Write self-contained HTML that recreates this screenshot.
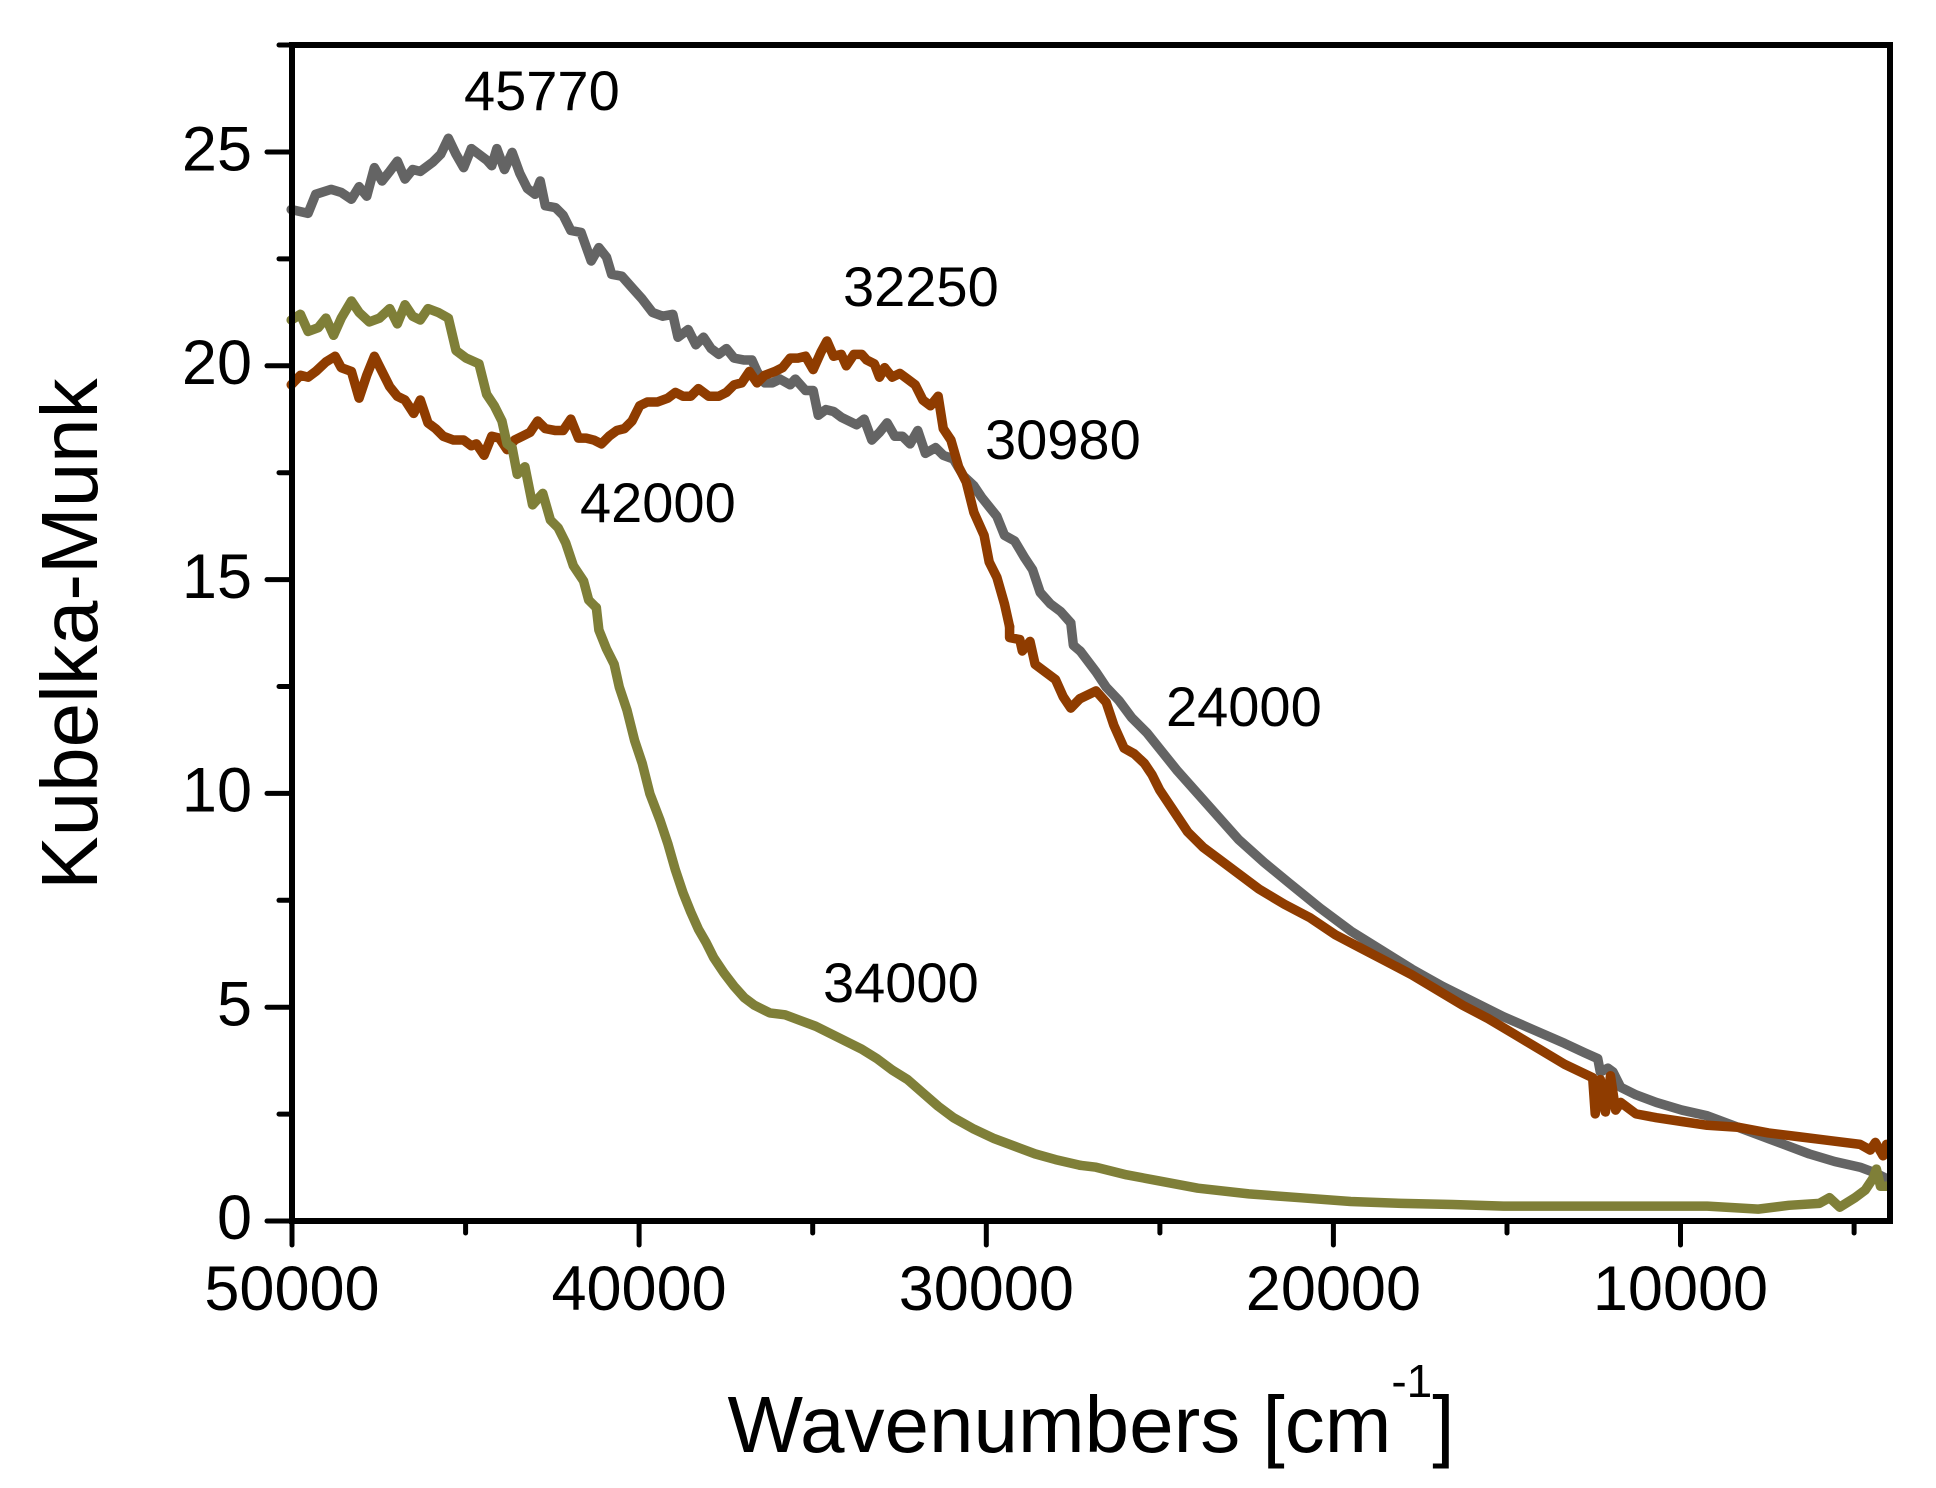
<!DOCTYPE html>
<html>
<head>
<meta charset="utf-8">
<style>
html,body{margin:0;padding:0;background:#fff;}
svg{display:block;}
text{font-family:"Liberation Sans",Arial,sans-serif;fill:#000;}
</style>
</head>
<body>
<svg width="1936" height="1488" viewBox="0 0 1936 1488" xmlns="http://www.w3.org/2000/svg">
<rect width="1936" height="1488" fill="#fff"/>

<!-- curves -->
<g fill="none" stroke-linejoin="round" stroke-linecap="round">
  <!-- gray -->
  <g transform="translate(280,40) scale(0.5102,0.381)">
    <path vector-effect="non-scaling-stroke" stroke="#646464" stroke-width="9.5" d="M22,445 L55,455 L70,405 L100,392 L120,400 L140,418 L155,385 L170,410 L185,335 L200,370 L215,345 L230,318 L245,365 L260,340 L275,345 L300,320 L315,300 L330,258 L345,300 L360,335 L375,285 L390,300 L405,315 L415,330 L425,285 L440,340 L455,295 L470,350 L485,390 L500,405 L510,370 L520,435 L540,440 L555,460 L570,500 L590,505 L610,580 L625,545 L640,570 L650,615 L670,620 L690,650 L710,680 L730,715 L750,725 L770,720 L780,780 L800,760 L815,800 L830,780 L845,810 L860,825 L875,810 L890,835 L910,840 L925,840 L935,870 L950,900 L965,900 L980,890 L1000,905 L1010,890 L1030,920 L1045,920 L1055,985 L1070,970 L1085,975 L1100,990 L1115,1000 L1130,1010 L1145,995 L1160,1050 L1175,1030 L1190,1005 L1205,1040 L1220,1040 L1235,1060 L1250,1025 L1265,1085 L1285,1070 L1300,1090 L1320,1100 L1340,1145 L1360,1170 L1375,1200 L1390,1225 L1405,1250 L1420,1300 L1440,1315 L1460,1360 L1475,1390 L1490,1450 L1510,1480 L1530,1500 L1550,1530"/>
  </g>
  <g transform="translate(280,630) scale(0.5102,0.381)">
    <path vector-effect="non-scaling-stroke" stroke="#646464" stroke-width="9.5" d="M1550,-18 L1555,40 L1568,55"/>
  </g>
  <g transform="translate(1096,630) scale(0.5094,0.381)">
    <path vector-effect="non-scaling-stroke" stroke="#646464" stroke-width="9.5" d="M-31,55 L0,110 L20,150 L45,185 L70,230 L100,270 L130,320 L160,370 L200,430 L240,490 L280,550 L330,610 L380,665 L440,730 L500,790 L560,840 L620,890 L680,935 L740,975 L800,1015 L860,1050 L920,1085 L960,1110 L985,1125 L990,1160 L1005,1150 L1015,1160 L1030,1200 L1060,1220 L1100,1240 L1150,1260 L1200,1275 L1250,1300 L1300,1325 L1350,1350 L1400,1375 L1450,1395 L1500,1410 L1530,1425 L1552,1440"/>
  </g>

  <!-- brown -->
  <g transform="translate(280,40) scale(0.5102,0.381)">
    <path vector-effect="non-scaling-stroke" stroke="#8f3c00" stroke-width="9.5" d="M22,905 L40,880 L55,885 L70,870 L90,845 L108,830 L120,860 L140,870 L155,940 L170,880 L185,830 L200,870 L215,910 L230,935 L245,945 L262,980 L275,945 L290,1005 L305,1020 L320,1040 L340,1050 L360,1050 L375,1065 L385,1060 L400,1090 L415,1040 L430,1045 L445,1075 L460,1050 L475,1040 L490,1030 L505,1000 L520,1020 L540,1025 L555,1025 L570,995 L585,1045 L600,1045 L615,1050 L630,1060 L645,1040 L660,1025 L675,1020 L690,1000 L705,960 L720,950 L740,950 L760,940 L775,925 L790,935 L805,935 L820,915 L840,935 L860,935 L875,925 L890,905 L905,900 L920,870 L935,900 L950,880 L970,870 L985,860 L1000,835 L1015,835 L1030,830 L1045,865 L1060,820 L1072,790 L1085,830 L1100,825 L1110,855 L1125,825 L1140,825 L1150,840 L1165,850 L1175,885 L1185,860 L1200,885 L1215,875 L1230,890 L1245,905 L1260,945 L1275,960 L1290,935 L1300,1020 L1315,1050 L1330,1120 L1345,1160 L1360,1240 L1380,1300 L1390,1370 L1405,1410 L1420,1480 L1430,1540"/>
  </g>
  <g transform="translate(280,630) scale(0.5102,0.381)">
    <path vector-effect="non-scaling-stroke" stroke="#8f3c00" stroke-width="9.5" d="M1430,-9 L1430,20 L1450,25 L1455,55 L1470,30 L1480,90 L1500,110 L1520,130 L1535,175 L1550,205 L1568,180"/>
  </g>
  <g transform="translate(1096,630) scale(0.5094,0.381)">
    <path vector-effect="non-scaling-stroke" stroke="#8f3c00" stroke-width="9.5" d="M-31,180 L0,160 L20,190 L35,250 L55,310 L75,325 L95,350 L110,380 L125,420 L150,470 L180,530 L210,570 L240,600 L280,640 L320,680 L370,720 L420,755 L470,800 L520,835 L570,870 L620,905 L670,945 L720,985 L770,1020 L820,1060 L870,1100 L920,1140 L975,1175 L980,1270 L990,1180 L1000,1265 L1010,1170 L1020,1260 L1030,1240 L1060,1270 L1100,1280 L1150,1290 L1200,1300 L1260,1305 L1320,1320 L1380,1330 L1440,1340 L1500,1350 L1520,1365 L1530,1345 L1545,1380 L1552,1350"/>
  </g>

  <!-- olive -->
  <g transform="translate(280,40) scale(0.5102,0.381)">
    <path vector-effect="non-scaling-stroke" stroke="#7f7f38" stroke-width="9.5" d="M22,735 L40,720 L55,765 L75,755 L90,730 L105,775 L120,730 L140,685 L155,715 L175,740 L195,730 L215,705 L230,745 L245,695 L260,725 L275,735 L290,705 L310,715 L330,730 L345,815 L365,835 L390,850 L405,930 L420,960 L435,1000 L445,1060 L455,1070 L465,1140 L480,1120 L495,1220 L515,1190 L530,1260 L545,1280 L560,1320 L575,1380 L595,1420 L605,1470 L620,1490"/>
  </g>
  <g transform="translate(280,630) scale(0.5102,0.381)">
    <path vector-effect="non-scaling-stroke" stroke="#7f7f38" stroke-width="9.5" d="M620,-59 L625,0 L640,50 L655,90 L665,150 L680,210 L695,290 L710,350 L725,430 L745,500 L760,560 L775,630 L790,690 L805,740 L820,785 L835,820 L850,860 L870,900 L890,935 L910,965 L930,985 L960,1005 L990,1010 L1020,1025 L1050,1040 L1080,1060 L1110,1080 L1140,1100 L1170,1125 L1200,1155 L1230,1180 L1260,1215 L1290,1250 L1320,1280 L1360,1310 L1400,1335 L1440,1355 L1480,1375 L1520,1390 L1568,1405"/>
  </g>
  <g transform="translate(1096,630) scale(0.5094,0.381)">
    <path vector-effect="non-scaling-stroke" stroke="#7f7f38" stroke-width="9.5" d="M-31,1405 L0,1410 L60,1430 L120,1445 L200,1465 L300,1480 L400,1490 L500,1500 L600,1505 L700,1508 L800,1512 L900,1512 L1000,1512 L1100,1512 L1200,1512 L1300,1520 L1360,1510 L1420,1505 L1440,1490 L1460,1515 L1490,1490 L1510,1470 L1525,1440 L1532,1415 L1540,1460 L1553,1460"/>
  </g>
</g>

<!-- axes frame -->
<g stroke="#000" fill="none">
  <line x1="292" y1="45" x2="1890" y2="45" stroke-width="6"/>
  <line x1="1890" y1="42" x2="1890" y2="1224" stroke-width="6"/>
  <line x1="292" y1="42" x2="292" y2="1224" stroke-width="6"/>
  <line x1="289" y1="1221" x2="1893" y2="1221" stroke-width="6"/>
  <g stroke-width="5" stroke-linecap="round">
    <line x1="267" y1="1221" x2="292" y2="1221"/>
    <line x1="267" y1="1007.2" x2="292" y2="1007.2"/>
    <line x1="267" y1="793.4" x2="292" y2="793.4"/>
    <line x1="267" y1="579.6" x2="292" y2="579.6"/>
    <line x1="267" y1="365.8" x2="292" y2="365.8"/>
    <line x1="267" y1="152" x2="292" y2="152"/>
    <line x1="279" y1="1114.1" x2="292" y2="1114.1"/>
    <line x1="279" y1="900.3" x2="292" y2="900.3"/>
    <line x1="279" y1="686.5" x2="292" y2="686.5"/>
    <line x1="279" y1="472.7" x2="292" y2="472.7"/>
    <line x1="279" y1="258.9" x2="292" y2="258.9"/>
    <line x1="279" y1="45" x2="292" y2="45"/>
    <line x1="292" y1="1221" x2="292" y2="1245"/>
    <line x1="639.1" y1="1221" x2="639.1" y2="1245"/>
    <line x1="986.3" y1="1221" x2="986.3" y2="1245"/>
    <line x1="1333.4" y1="1221" x2="1333.4" y2="1245"/>
    <line x1="1680.5" y1="1221" x2="1680.5" y2="1245"/>
    <line x1="465.6" y1="1221" x2="465.6" y2="1233"/>
    <line x1="812.7" y1="1221" x2="812.7" y2="1233"/>
    <line x1="1159.9" y1="1221" x2="1159.9" y2="1233"/>
    <line x1="1507" y1="1221" x2="1507" y2="1233"/>
    <line x1="1854.1" y1="1221" x2="1854.1" y2="1233"/>
  </g>
</g>

<!-- y tick labels -->
<g font-size="63" text-anchor="end">
  <text x="252" y="1239">0</text>
  <text x="252" y="1025.5">5</text>
  <text x="252" y="811.7">10</text>
  <text x="252" y="597.9">15</text>
  <text x="252" y="384.1">20</text>
  <text x="252" y="170.3">25</text>
</g>
<!-- x tick labels -->
<g font-size="63" text-anchor="middle">
  <text x="292" y="1310">50000</text>
  <text x="639.1" y="1310">40000</text>
  <text x="986.3" y="1310">30000</text>
  <text x="1333.4" y="1310">20000</text>
  <text x="1680.5" y="1310">10000</text>
</g>

<!-- annotations -->
<g font-size="56">
  <text x="464" y="110">45770</text>
  <text x="843" y="306">32250</text>
  <text x="985" y="459">30980</text>
  <text x="580" y="522">42000</text>
  <text x="823" y="1002">34000</text>
  <text x="1166" y="726">24000</text>
</g>

<!-- axis titles -->
<text transform="translate(97,634) rotate(-90)" font-size="80" text-anchor="middle">Kubelka-Munk</text>
<text x="1091" y="1452" font-size="80" text-anchor="middle">Wavenumbers [cm<tspan font-size="46" dy="-55">-1</tspan><tspan font-size="80" dy="55">]</tspan></text>
</svg>
</body>
</html>
